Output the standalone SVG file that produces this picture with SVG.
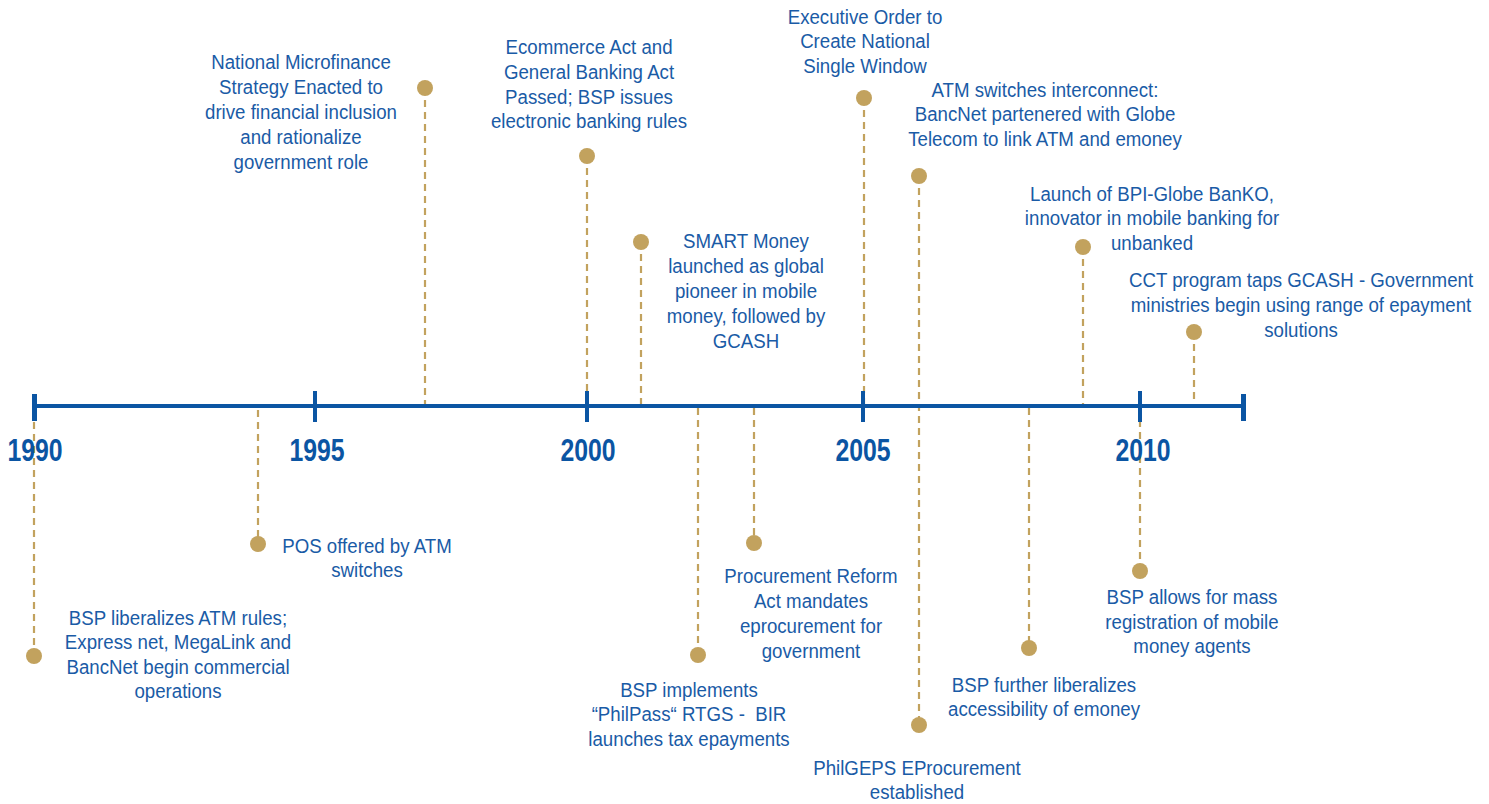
<svg xmlns="http://www.w3.org/2000/svg" width="1489" height="804" viewBox="0 0 1489 804">
<style>
.lbl{font-family:"Liberation Sans",Arial,sans-serif;font-size:21px;fill:#1a5ba6;text-anchor:middle}
.yr{font-family:"Liberation Sans",Arial,sans-serif;font-size:31px;font-weight:bold;fill:#0b55a3;text-anchor:middle}
.dash{stroke:#c2a25e;stroke-width:2.2;stroke-dasharray:7 5;fill:none}
.dot{fill:#c2a25e}
.axis{stroke:#0b55a3;stroke-width:4;fill:none}
.tick{stroke:#0b55a3;fill:none}
</style>
<rect width="1489" height="804" fill="#ffffff"/>
<g id="connectors">
<line class="dash" x1="34" y1="410" x2="34" y2="656"/>
<line class="dash" x1="258" y1="410" x2="258" y2="544"/>
<line class="dash" x1="425" y1="88" x2="425" y2="406"/>
<line class="dash" x1="587" y1="156" x2="587" y2="406"/>
<line class="dash" x1="641" y1="242" x2="641" y2="406"/>
<line class="dash" x1="698" y1="408" x2="698" y2="655"/>
<line class="dash" x1="754" y1="408" x2="754" y2="543"/>
<line class="dash" x1="864" y1="98" x2="864" y2="406"/>
<line class="dash" x1="919" y1="176" x2="919" y2="725"/>
<line class="dash" x1="1029" y1="408" x2="1029" y2="648"/>
<line class="dash" x1="1083" y1="247" x2="1083" y2="406"/>
<line class="dash" x1="1140" y1="408" x2="1140" y2="571"/>
<line class="dash" x1="1194" y1="332" x2="1194" y2="406"/>
</g>
<g id="axis">
<line class="axis" x1="35" y1="406" x2="1243" y2="406"/>
<line class="tick" stroke-width="5" x1="34.5" y1="394" x2="34.5" y2="421"/>
<line class="tick" stroke-width="4" x1="315" y1="391" x2="315" y2="422"/>
<line class="tick" stroke-width="4" x1="587" y1="391" x2="587" y2="422"/>
<line class="tick" stroke-width="4" x1="863" y1="391" x2="863" y2="422"/>
<line class="tick" stroke-width="4" x1="1140" y1="391" x2="1140" y2="422"/>
<line class="tick" stroke-width="5" x1="1243.5" y1="394" x2="1243.5" y2="421"/>
<text class="yr" transform="translate(35 0) scale(0.8 1)" x="0" y="461">1990</text>
<text class="yr" transform="translate(317 0) scale(0.8 1)" x="0" y="461">1995</text>
<text class="yr" transform="translate(588 0) scale(0.8 1)" x="0" y="461">2000</text>
<text class="yr" transform="translate(863 0) scale(0.8 1)" x="0" y="461">2005</text>
<text class="yr" transform="translate(1143 0) scale(0.8 1)" x="0" y="461">2010</text>
</g>
<g id="e1990">
<circle class="dot" cx="34" cy="656" r="8"/>
<text class="lbl" transform="translate(178 0) scale(0.89 1)" y="625"><tspan x="0">BSP liberalizes ATM rules;</tspan><tspan x="0" dy="24.5">Express net, MegaLink and</tspan><tspan x="0" dy="24.5">BancNet begin commercial</tspan><tspan x="0" dy="24.5">operations</tspan></text>
</g>
<g id="e-pos">
<circle class="dot" cx="258" cy="544" r="8"/>
<text class="lbl" transform="translate(367 0) scale(0.89 1)" y="553.5"><tspan x="0">POS offered by ATM</tspan><tspan x="0" dy="24">switches</tspan></text>
</g>
<g id="e-microfinance">
<circle class="dot" cx="425" cy="88" r="8"/>
<text class="lbl" transform="translate(301 0) scale(0.89 1)" y="69.5"><tspan x="0">National Microfinance</tspan><tspan x="0" dy="24.8">Strategy Enacted to</tspan><tspan x="0" dy="24.8">drive financial inclusion</tspan><tspan x="0" dy="24.8">and rationalize</tspan><tspan x="0" dy="24.8">government role</tspan></text>
</g>
<g id="e-ecommerce">
<circle class="dot" cx="587" cy="156" r="8"/>
<text class="lbl" transform="translate(589 0) scale(0.89 1)" y="54"><tspan x="0">Ecommerce Act and</tspan><tspan x="0" dy="24.8">General Banking Act</tspan><tspan x="0" dy="24.8">Passed; BSP issues</tspan><tspan x="0" dy="24.8">electronic banking rules</tspan></text>
</g>
<g id="e-smart">
<circle class="dot" cx="641" cy="242" r="8"/>
<text class="lbl" transform="translate(746 0) scale(0.89 1)" y="248.3"><tspan x="0">SMART Money</tspan><tspan x="0" dy="25">launched as global</tspan><tspan x="0" dy="25">pioneer in mobile</tspan><tspan x="0" dy="25">money, followed by</tspan><tspan x="0" dy="25">GCASH</tspan></text>
</g>
<g id="e-philpass">
<circle class="dot" cx="698" cy="655" r="8"/>
<text class="lbl" transform="translate(689 0) scale(0.89 1)" y="696.7"><tspan x="0">BSP implements</tspan><tspan x="0" dy="24.8">“PhilPass“ RTGS - &#160;BIR</tspan><tspan x="0" dy="24.8">launches tax epayments</tspan></text>
</g>
<g id="e-procurement">
<circle class="dot" cx="754" cy="543" r="8"/>
<text class="lbl" transform="translate(811 0) scale(0.89 1)" y="583.3"><tspan x="0">Procurement Reform</tspan><tspan x="0" dy="24.8">Act mandates</tspan><tspan x="0" dy="24.8">eprocurement for</tspan><tspan x="0" dy="24.8">government</tspan></text>
</g>
<g id="e-executive">
<circle class="dot" cx="864" cy="98" r="8"/>
<text class="lbl" transform="translate(865 0) scale(0.89 1)" y="24.3"><tspan x="0">Executive Order to</tspan><tspan x="0" dy="24.2">Create National</tspan><tspan x="0" dy="24.2">Single Window</tspan></text>
</g>
<g id="e-atm">
<circle class="dot" cx="919" cy="176" r="8"/>
<text class="lbl" transform="translate(1045 0) scale(0.89 1)" y="97"><tspan x="0">ATM switches interconnect:</tspan><tspan x="0" dy="24.5">BancNet partenered with Globe</tspan><tspan x="0" dy="24.5">Telecom to link ATM and emoney</tspan></text>
</g>
<g id="e-philgeps">
<circle class="dot" cx="919" cy="725" r="8"/>
<text class="lbl" transform="translate(917 0) scale(0.89 1)" y="775.5"><tspan x="0">PhilGEPS EProcurement</tspan><tspan x="0" dy="24">established</tspan></text>
</g>
<g id="e-emoney">
<circle class="dot" cx="1029" cy="648" r="8"/>
<text class="lbl" transform="translate(1044 0) scale(0.89 1)" y="691.7"><tspan x="0">BSP further liberalizes</tspan><tspan x="0" dy="24.4">accessibility of emoney</tspan></text>
</g>
<g id="e-banko">
<circle class="dot" cx="1083" cy="247" r="8"/>
<text class="lbl" transform="translate(1152 0) scale(0.89 1)" y="200.7"><tspan x="0">Launch of BPI-Globe BanKO,</tspan><tspan x="0" dy="24.6">innovator in mobile banking for</tspan><tspan x="0" dy="24.6">unbanked</tspan></text>
</g>
<g id="e-agents">
<circle class="dot" cx="1140" cy="571" r="8"/>
<text class="lbl" transform="translate(1192 0) scale(0.89 1)" y="604.3"><tspan x="0">BSP allows for mass</tspan><tspan x="0" dy="24.5">registration of mobile</tspan><tspan x="0" dy="24.5">money agents</tspan></text>
</g>
<g id="e-cct">
<circle class="dot" cx="1194" cy="332" r="8"/>
<text class="lbl" transform="translate(1301 0) scale(0.89 1)" y="286.7"><tspan x="0">CCT program taps GCASH - Government</tspan><tspan x="0" dy="25">ministries begin using range of epayment</tspan><tspan x="0" dy="25">solutions</tspan></text>
</g>
</svg>
